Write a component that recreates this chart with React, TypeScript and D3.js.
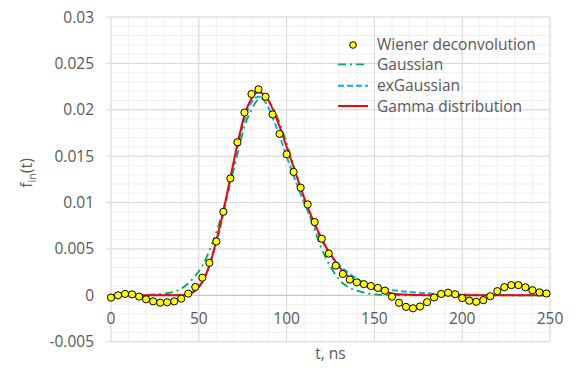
import React from "react";
import * as d3 from "d3";

// Wiener deconvolution points (t, ns) every 4 ns
const wienerT = d3.range(0, 252, 4);
const wienerV = [
  -0.00025, 0.0, 0.00015, 0.0001, -0.00014, -0.00043, -0.00065, -0.00079, -0.00075, -0.00065,
  -0.00036, 0.00018, 0.0009, 0.0019, 0.0035, 0.0058, 0.009, 0.0126, 0.0165, 0.0197,
  0.0217, 0.0222, 0.0214, 0.0195, 0.0174, 0.0152, 0.0133, 0.0116, 0.0098, 0.0079,
  0.0061, 0.0045, 0.0032, 0.0023, 0.0017, 0.0014, 0.0012, 0.001, 0.0008, 0.0005,
  -0.00015, -0.0008, -0.00125, -0.0014, -0.0012, -0.00074, -0.00023, 0.00015, 0.00028, 0.00012,
  -0.0003, -0.00058, -0.0007, -0.00052, -0.0001, 0.00045, 0.00088, 0.0011, 0.0011, 0.00086,
  0.00055, 0.00032, 0.0002,
];

// Fitted curves sampled on a shared time grid
const curveT = [0, 10, 20, 30, 36, 40, 44, 48, 52, 56, 60, 64, 68, 72, 76, 80, 84, 88, 92, 96, 100,
  104, 108, 112, 116, 120, 124, 128, 132, 136, 140, 144, 148, 152, 156, 160, 170, 180, 190, 200, 220, 250];
const gaussianV = [0, 0.00001, 0.00005, 0.00018, 0.0004, 0.0007, 0.0013, 0.0021, 0.0032, 0.0048, 0.0068,
  0.0093, 0.0121, 0.0152, 0.0182, 0.02, 0.0211, 0.0212, 0.0203, 0.0186, 0.0164,
  0.014, 0.0116, 0.0092, 0.007, 0.005, 0.0034, 0.0022, 0.0013, 0.0008, 0.0005,
  0.0003, 0.00015, 0.00008, 0.00004, 0.00002, 0, 0, 0, 0, 0, 0];
const exGaussianV = [0.00002, 0.00002, 0.00002, 0.00003, 0.00004, 0.00006, 0.0002, 0.0006, 0.0015, 0.0032, 0.0057,
  0.0088, 0.0124, 0.0159, 0.0189, 0.0208, 0.0214, 0.0208, 0.0192, 0.0172, 0.015,
  0.0129, 0.0109, 0.0091, 0.0074, 0.0059, 0.0047, 0.0037, 0.0029, 0.0023, 0.0018,
  0.0014, 0.0011, 0.0009, 0.00072, 0.00058, 0.00035, 0.00022, 0.00013, 0.00008, 0.00003, 0.00001];
const gammaV = [0, 0, 0, 0, 0, 0.00001, 0.0001, 0.0005, 0.0014, 0.0032, 0.0059,
  0.0091, 0.0127, 0.0163, 0.0194, 0.0212, 0.0219, 0.0215, 0.0201, 0.0182, 0.016,
  0.0138, 0.0116, 0.0095, 0.0077, 0.0061, 0.0047, 0.0036, 0.0026, 0.0019, 0.0015,
  0.0011, 0.0008, 0.0006, 0.0004, 0.0002, 0.00005, 0.00001, 0, 0, 0, 0];

const xTicks = [0, 50, 100, 150, 200, 250];
const yTicks = [-0.005, 0, 0.005, 0.01, 0.015, 0.02, 0.025, 0.03];
const yTickLabels = ["-0.005", "0", "0.005", "0.01", "0.015", "0.02", "0.025", "0.03"];
const xMinor = d3.range(0, 251, 10);
const yMinor = d3.range(-5, 31, 1).map((d) => d / 1000);

const legendItems = ["Wiener deconvolution", "Gaussian", "exGaussian", "Gamma distribution"];

const FONT = "'Open Sans', sans-serif";
const TXT = "#595959";

export default function App() {
  const W = 582, H = 381;
  const x = d3.scaleLinear().domain([0, 250]).range([111, 550]);
  const y = d3.scaleLinear().domain([-0.005, 0.03]).range([341.7, 17]);

  const mkLine = (vals: number[]) =>
    d3.line<number>()
      .x((_, i) => x(curveT[i]))
      .y((d) => y(d))
      .curve(d3.curveMonotoneX)(vals) || "";

  const fs = 15.5;

  return (
    <svg width={W} height={H} style={{ position: "absolute", left: 0, top: 0, background: "#fff" }}
      fontFamily={FONT}>
      {/* minor grid */}
      {xMinor.map((t) => (
        <line key={"xm" + t} x1={x(t)} x2={x(t)} y1={y(0.03)} y2={y(-0.005)} stroke="#f0f0f0" strokeWidth={1} />
      ))}
      {yMinor.map((v, i) => (
        <line key={"ym" + i} x1={x(0)} x2={x(250)} y1={y(v)} y2={y(v)} stroke="#f0f0f0" strokeWidth={1} />
      ))}
      {/* major grid */}
      {xTicks.map((t) => (
        <line key={"xM" + t} x1={x(t)} x2={x(t)} y1={y(0.03)} y2={y(-0.005)} stroke="#d9d9d9" strokeWidth={1} />
      ))}
      {yTicks.map((v, i) => (
        <line key={"yM" + i} x1={x(0) - 5} x2={x(250)} y1={y(v)} y2={y(v)}
          stroke={v === 0 ? "#bfbfbf" : "#d9d9d9"} strokeWidth={1} />
      ))}

      {/* y tick labels */}
      {yTicks.map((v, i) => (
        <text key={"yl" + i} x={94} y={y(v) + 5.5} textAnchor="end" fontSize={fs} fill={TXT}>
          {yTickLabels[i]}
        </text>
      ))}
      {/* x tick labels */}
      {xTicks.map((t) => (
        <text key={"xl" + t} x={x(t)} y={323.5} textAnchor="middle" fontSize={fs} fill={TXT}>
          {t}
        </text>
      ))}

      {/* axis titles */}
      <text x={330.5} y={359} textAnchor="middle" fontSize={fs} fill={TXT}>t, ns</text>
      <text transform="translate(32,173) rotate(-90)" textAnchor="middle" fontSize={fs} fill={TXT}>
        f<tspan fontSize={11} dy={4}>in</tspan><tspan dy={-4}>(t)</tspan>
      </text>

      {/* curves */}
      <path d={mkLine(gaussianV)} fill="none" stroke="#00b050" strokeWidth={1.8} strokeDasharray="8,4,2,4" />
      <path d={mkLine(exGaussianV)} fill="none" stroke="#00b0f0" strokeWidth={2} strokeDasharray="6,3" />
      <path d={mkLine(gammaV)} fill="none" stroke="#ff0000" strokeWidth={2} />

      {/* points */}
      {wienerT.map((t, i) => (
        <circle key={"p" + i} cx={x(t)} cy={y(wienerV[i])} r={3.6} fill="#ffff00" stroke="#000" strokeWidth={1} />
      ))}

      {/* legend */}
      <g>
        <circle cx={353} cy={45} r={3.3} fill="#ffff00" stroke="#000" strokeWidth={1} />
        <line x1={338} x2={368} y1={64.3} y2={64.3} stroke="#00b050" strokeWidth={1.8} strokeDasharray="8,4,2,4" />
        <line x1={338} x2={368} y1={85.7} y2={85.7} stroke="#00b0f0" strokeWidth={2} strokeDasharray="6,3" />
        <line x1={338} x2={368} y1={106} y2={106} stroke="#ff0000" strokeWidth={2} />
        {legendItems.map((s, i) => (
          <text key={s} x={377} y={[49.5, 70, 91, 112][i]} fontSize={fs} fill={TXT}>{s}</text>
        ))}
      </g>
    </svg>
  );
}
